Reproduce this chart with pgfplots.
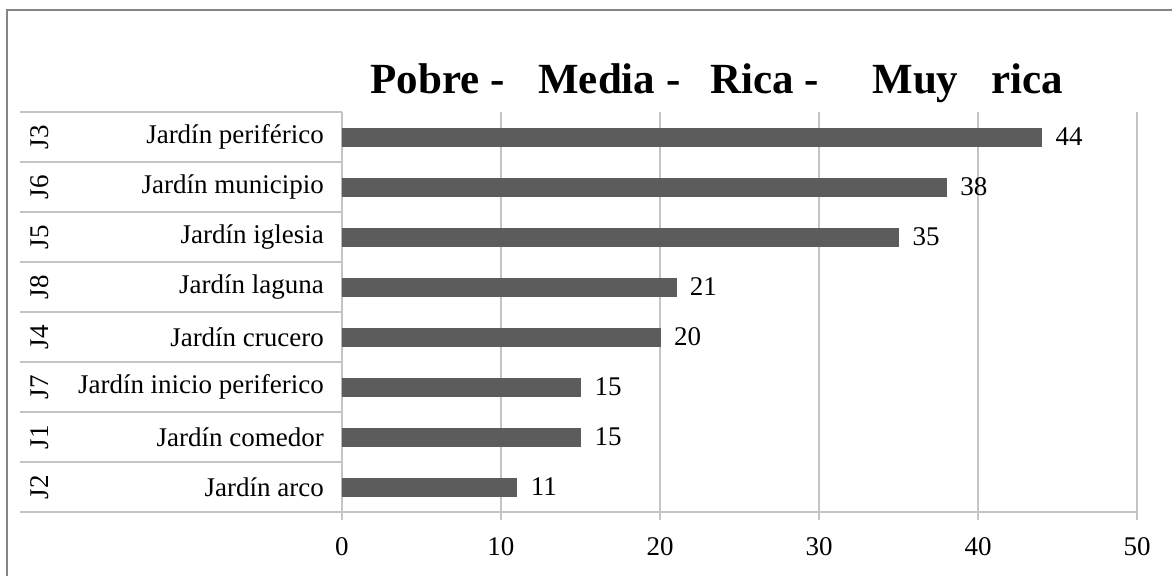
\documentclass[border=0pt]{standalone}
\usepackage{fontspec}
\setmainfont{Liberation Serif}
\usepackage{pgfplots}
\pgfplotsset{compat=1.18}
\definecolor{barc}{HTML}{5C5C5C}
\definecolor{gridc}{HTML}{C4C4C4}
\definecolor{framec}{HTML}{858585}
\begin{document}
\begin{tikzpicture}
\useasboundingbox (-171pt,-31.5pt) rectangle (415pt,256pt);
\fill[white] (-171pt,-31.5pt) rectangle (415pt,256pt);
\draw[framec, line width=1pt] (-167.5pt,-33pt) -- (-167.5pt,251pt) -- (417pt,251pt);
\begin{axis}[
  at={(0,0)}, anchor=south west, scale only axis,
  width=397.5pt, height=200pt,
  xbar, bar width=9pt,
  xmin=0, xmax=50, ymin=-0.5, ymax=7.5,
  xtick={0,10,20,30,40,50},
  ytick={0,1,2,3,4,5,6,7},
  yticklabels={Jardín arco, Jardín comedor, Jardín inicio periferico, Jardín crucero, Jardín laguna, Jardín iglesia, Jardín municipio, Jardín periférico},
  axis x line*=bottom, axis y line*=left,
  axis line style={gridc, line width=1pt},
  xmajorgrids=true, ymajorgrids=false,
  grid style={gridc, line width=1pt},
  tick align=outside, major tick length=4pt,
  xtick style={gridc, line width=1pt},
  ytick style={draw=none},
  tick label style={font=\fontsize{13.5}{16}\selectfont, text=black},
  xticklabel style={yshift=-5pt},
  yticklabel style={xshift=-1.5pt},
  /pgf/number format/assume math mode=true,
  nodes near coords,
  every node near coord/.append style={font=\fontsize{13.5}{16}\selectfont, text=black, anchor=west, xshift=3.5pt},
  clip=false,
]
\addplot[fill=barc, draw=barc] coordinates {
  (11,0) (15,1) (15,2) (20,3) (21,4) (35,5) (38,6) (44,7)
};
\draw[gridc, line width=1pt] ([xshift=-161pt]axis cs:0,-0.5) -- (axis cs:0,-0.5);
\draw[gridc, line width=1pt] ([xshift=-161pt]axis cs:0,0.5) -- (axis cs:0,0.5);
\draw[gridc, line width=1pt] ([xshift=-161pt]axis cs:0,1.5) -- (axis cs:0,1.5);
\draw[gridc, line width=1pt] ([xshift=-161pt]axis cs:0,2.5) -- (axis cs:0,2.5);
\draw[gridc, line width=1pt] ([xshift=-161pt]axis cs:0,3.5) -- (axis cs:0,3.5);
\draw[gridc, line width=1pt] ([xshift=-161pt]axis cs:0,4.5) -- (axis cs:0,4.5);
\draw[gridc, line width=1pt] ([xshift=-161pt]axis cs:0,5.5) -- (axis cs:0,5.5);
\draw[gridc, line width=1pt] ([xshift=-161pt]axis cs:0,6.5) -- (axis cs:0,6.5);
\draw[gridc, line width=1pt] ([xshift=-161pt]axis cs:0,7.5) -- (axis cs:0,7.5);
\node[rotate=90, font=\fontsize{13.5}{16}\selectfont] at ([xshift=-151pt]axis cs:0,0) {J2};
\node[rotate=90, font=\fontsize{13.5}{16}\selectfont] at ([xshift=-151pt]axis cs:0,1) {J1};
\node[rotate=90, font=\fontsize{13.5}{16}\selectfont] at ([xshift=-151pt]axis cs:0,2) {J7};
\node[rotate=90, font=\fontsize{13.5}{16}\selectfont] at ([xshift=-151pt]axis cs:0,3) {J4};
\node[rotate=90, font=\fontsize{13.5}{16}\selectfont] at ([xshift=-151pt]axis cs:0,4) {J8};
\node[rotate=90, font=\fontsize{13.5}{16}\selectfont] at ([xshift=-151pt]axis cs:0,5) {J5};
\node[rotate=90, font=\fontsize{13.5}{16}\selectfont] at ([xshift=-151pt]axis cs:0,6) {J6};
\node[rotate=90, font=\fontsize{13.5}{16}\selectfont] at ([xshift=-151pt]axis cs:0,7) {J3};
\end{axis}
\begin{scope}[every node/.style={inner sep=0pt, anchor=base west, font=\fontsize{21.5}{24}\selectfont\bfseries}]
\node at (14pt,209.5pt) {Pobre -};
\node at (98pt,209.5pt) {Media -};
\node at (184pt,209.5pt) {Rica -};
\node at (265pt,209.5pt) {Muy};
\node at (324.5pt,209.5pt) {rica};
\end{scope}
\end{tikzpicture}
\end{document}
